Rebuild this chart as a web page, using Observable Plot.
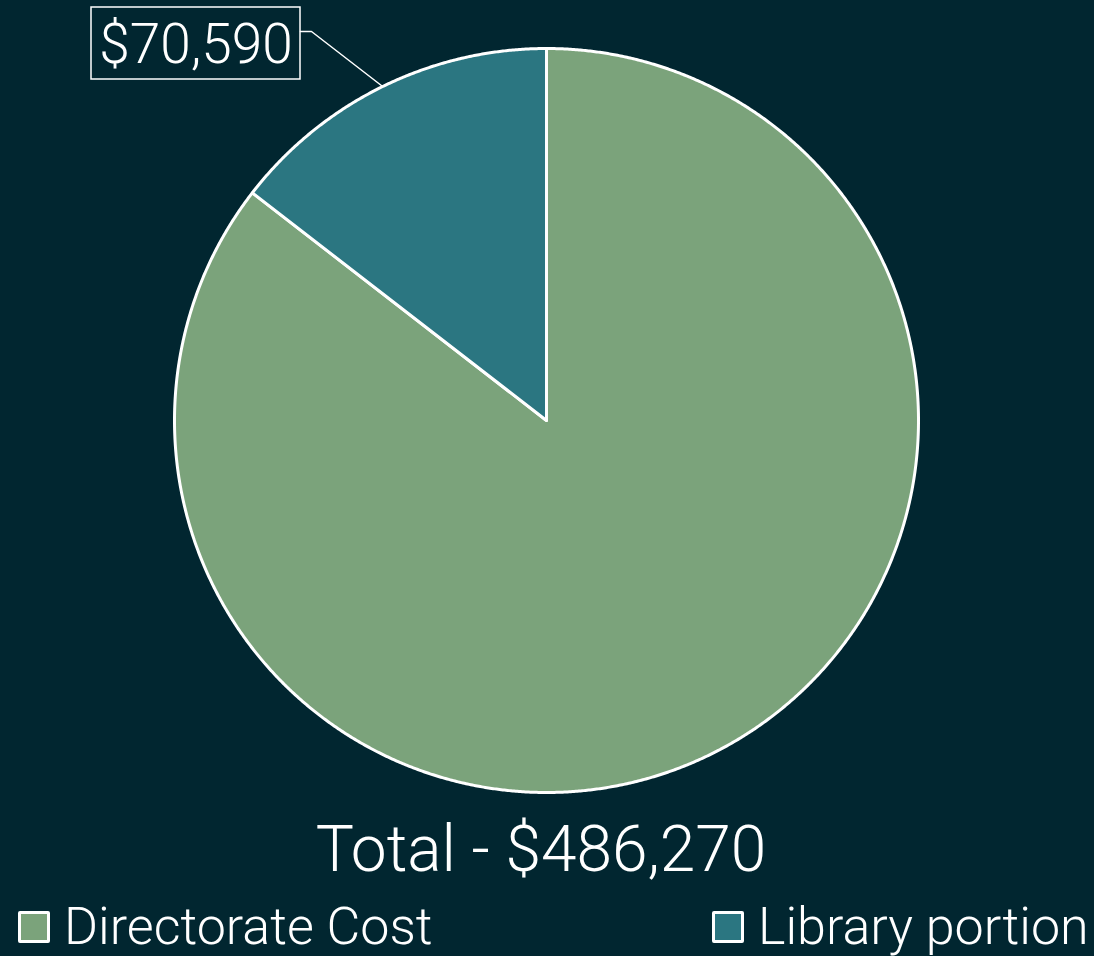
<!DOCTYPE html>
<html>
<head>
<meta charset="utf-8">
<script src="https://cdn.jsdelivr.net/npm/d3@7"></script>
<script src="https://cdn.jsdelivr.net/npm/@observablehq/plot@0.6"></script>
<style>
  html, body { margin: 0; padding: 0; background: #012630; }
  #wrap { position: relative; width: 1094px; height: 956px; overflow: hidden; background: #012630; font-family: Roboto, "Liberation Sans", sans-serif; font-weight: 300; color: #fff; }
  #chart { position: absolute; left: 0; top: 0; }
  #total { position: absolute; left: -6px; width: 1094px; top: 810px; text-align: center; font-size: 64px; line-height: 80px; }
  .leg { position: absolute; top: 900px; height: 54px; font-size: 52px; line-height: 54px; white-space: nowrap; }
  .sw { display: inline-block; width: 26px; height: 26px; border: 3px solid #fff; border-radius: 2px; vertical-align: middle; margin-right: 14px; position: relative; top: -3px; }
</style>
</head>
<body>
<div id="wrap">
  <div id="chart"></div>
  <div id="total"></div>
  <div class="leg" id="leg1" style="left:18px"></div>
  <div class="leg" id="leg2" style="left:712px"></div>
</div>
<script>
// ---- data ----
const categories = ["Directorate Cost", "Library portion"];
const values = [415680, 70590];
const colors = ["#7ba37b", "#2b7681"];
const totalLabel = "Total - $486,270";
const sliceLabels = ["", "$70,590"];

// ---- layout ----
const W = 1094, H = 800;
const cx = 546, cy = 420, R = 372;
const toU = px => (px - cx) / R;
const toV = py => (cy - py) / R;

const pie = d3.pie().sort(null).startAngle(0).endAngle(2 * Math.PI);
const arcs = pie(values);

const pts = [];
arcs.forEach((a, i) => {
  const name = categories[i];
  pts.push({name, u: 0, v: 0});
  const n = Math.max(2, Math.ceil((a.endAngle - a.startAngle) / (Math.PI / 720)));
  for (let k = 0; k <= n; k++) {
    const t = a.startAngle + (a.endAngle - a.startAngle) * k / n;
    pts.push({name, u: Math.sin(t), v: Math.cos(t)});
  }
  pts.push({name, u: 0, v: 0});
});

// label for library slice
const lib = arcs[1];
const mid = (lib.startAngle + lib.endAngle) / 2;
const leader = [
  {u: Math.sin(mid), v: Math.cos(mid)},
  {u: toU(311), v: toV(31)},
  {u: toU(300), v: toV(31)}
];
const box = [{x1: toU(91), x2: toU(300), y1: toV(79), y2: toV(7)}];
const labelPos = [{u: toU(195.5), v: toV(45), text: sliceLabels[1]}];

const plot = Plot.plot({
  width: W, height: H,
  margin: 0,
  style: {background: "transparent", color: "#fff"},
  x: {domain: [toU(0), toU(W)], axis: null},
  y: {domain: [toV(H), toV(0)], axis: null},
  color: {domain: categories, range: colors},
  marks: [
    Plot.line(pts, {x: "u", y: "v", z: "name", fill: "name", stroke: "#fff", strokeWidth: 3, strokeLinejoin: "round", curve: "linear"}),
    Plot.line(leader, {x: "u", y: "v", stroke: "#fff", strokeWidth: 1.5}),
    Plot.rect(box, {x1: "x1", x2: "x2", y1: "y1", y2: "y2", fill: "none", stroke: "#fff", strokeWidth: 1.5}),
    Plot.text(labelPos, {x: "u", y: "v", text: "text", fill: "#fff", fontSize: 55, fontWeight: 300, fontFamily: "Roboto, 'Liberation Sans', sans-serif", textAnchor: "middle", lineAnchor: "middle"})
  ]
});
document.getElementById("chart").appendChild(plot);
document.getElementById("total").textContent = totalLabel;

[["leg1", 0], ["leg2", 1]].forEach(([id, i]) => {
  const el = document.getElementById(id);
  const sw = document.createElement("span");
  sw.className = "sw";
  sw.style.background = colors[i];
  el.appendChild(sw);
  el.appendChild(document.createTextNode(categories[i]));
});
</script>
</body>
</html>
